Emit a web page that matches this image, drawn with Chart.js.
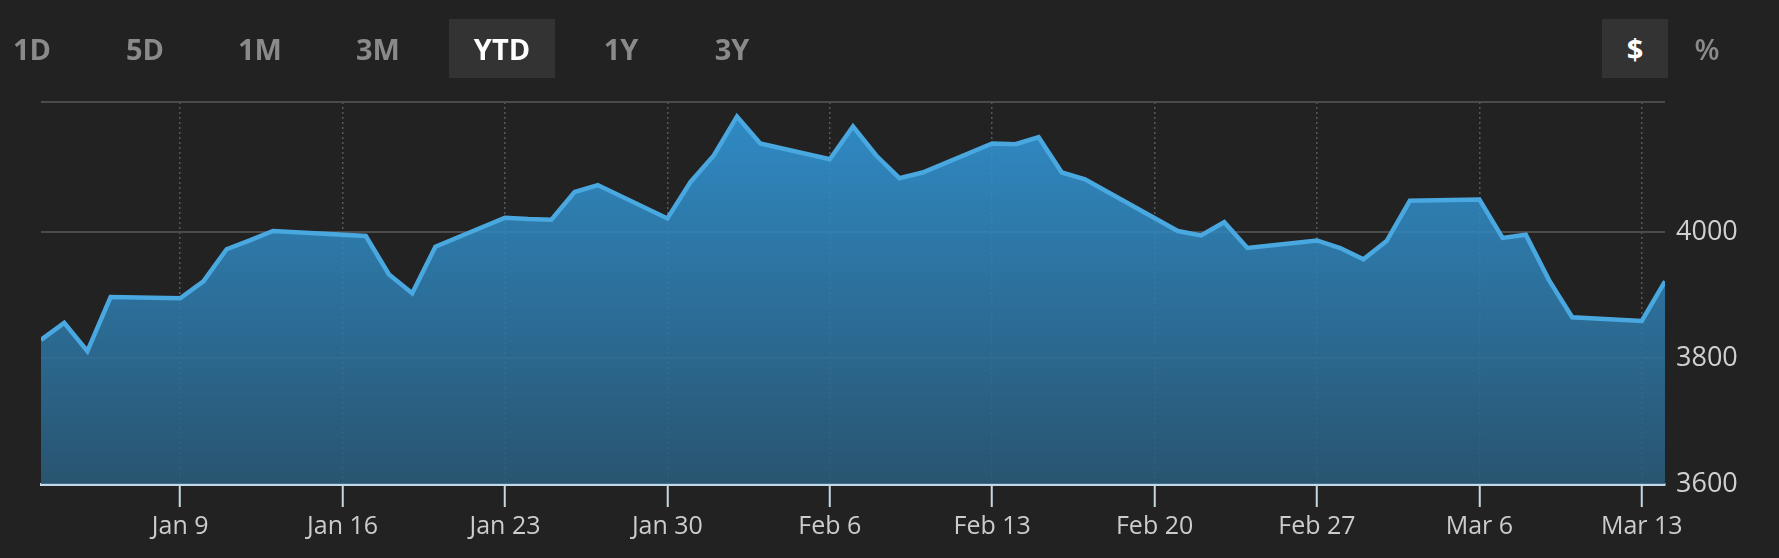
<!DOCTYPE html>
<html>
<head>
<meta charset="utf-8">
<script src="https://cdn.jsdelivr.net/npm/chart.js@4.4.1/dist/chart.umd.min.js"></script>
<style>
  html, body { margin: 0; padding: 0; background: #222222; overflow: hidden; }
  #wrap { position: relative; width: 1779px; height: 558px; }
  #chart { position: absolute; left: 0; top: 0; }
  .btn {
    position: absolute; top: 19px; height: 59px;
    display: flex; align-items: center; justify-content: center;
    font-family: 'Open Sans', sans-serif; font-weight: 700; font-size: 29px;
    color: #8a8a8a; white-space: nowrap;
  }
  .btn.active { background: #333333; color: #ffffff; }
</style>
</head>
<body>
<div id="wrap">
  <canvas id="chart" width="1779" height="558"></canvas>
  <div id="buttons"></div>
</div>
<script>
// range buttons across the top
const rangeLabels = ['1D', '5D', '1M', '3M', 'YTD', '1Y', '3Y'];
const rangeCenters = [32, 145, 260, 378, 502, 621, 732];
const unitLabels = ['$', '%'];
const unitCenters = [1635, 1707];

// daily closes, YTD
const dates = [
  '2023-01-03', '2023-01-04', '2023-01-05', '2023-01-06', '2023-01-09', '2023-01-10',
  '2023-01-11', '2023-01-12', '2023-01-13', '2023-01-17', '2023-01-18', '2023-01-19',
  '2023-01-20', '2023-01-23', '2023-01-24', '2023-01-25', '2023-01-26', '2023-01-27',
  '2023-01-30', '2023-01-31', '2023-02-01', '2023-02-02', '2023-02-03', '2023-02-06',
  '2023-02-07', '2023-02-08', '2023-02-09', '2023-02-10', '2023-02-13', '2023-02-14',
  '2023-02-15', '2023-02-16', '2023-02-17', '2023-02-21', '2023-02-22', '2023-02-23',
  '2023-02-24', '2023-02-27', '2023-02-28', '2023-03-01', '2023-03-02', '2023-03-03',
  '2023-03-06', '2023-03-07', '2023-03-08', '2023-03-09', '2023-03-10', '2023-03-13',
  '2023-03-14'
];
const closes = [
  3829, 3856, 3811, 3897, 3895, 3922,
  3973, 3987, 4002, 3994, 3933, 3903,
  3977, 4023, 4021, 4020, 4064, 4075,
  4022, 4080, 4122, 4184, 4141, 4116,
  4168, 4122, 4086, 4095, 4141, 4140,
  4151, 4095, 4084, 4002, 3995, 4016,
  3975, 3987, 3975, 3957, 3986, 4050,
  4052, 3991, 3996, 3924, 3865, 3859,
  3922
];

// x axis ticks (weekly)
const tickDates = ['2023-01-09', '2023-01-16', '2023-01-23', '2023-01-30', '2023-02-06',
  '2023-02-13', '2023-02-20', '2023-02-27', '2023-03-06', '2023-03-13'];
const tickLabels = ['Jan 9', 'Jan 16', 'Jan 23', 'Jan 30', 'Feb 6',
  'Feb 13', 'Feb 20', 'Feb 27', 'Mar 6', 'Mar 13'];

// y axis: labelled ticks, plus an unlabelled line at the top of the plot
const yTicks = [3600, 3800, 4000];
const yMin = 3600, yTop = 4207;

function dayNum(iso) {
  const [y, m, d] = iso.split('-').map(Number);
  return (Date.UTC(y, m - 1, d) - Date.UTC(y, 0, 0)) / 86400000;
}

// buttons
const btnBox = document.getElementById('buttons');
function addBtn(text, cx, active, w) {
  const el = document.createElement('div');
  el.className = 'btn' + (active ? ' active' : '');
  el.textContent = text;
  el.style.left = (cx - w / 2) + 'px';
  el.style.width = w + 'px';
  btnBox.appendChild(el);
  return el;
}
rangeLabels.forEach((t, i) => addBtn(t, rangeCenters[i], t === 'YTD', t === 'YTD' ? 106 : 60));
unitLabels.forEach((t, i) => {
  const el = addBtn(t, unitCenters[i], t === '$', t === '$' ? 66 : 40);
  if (t === '%') el.style.fontWeight = '600';
});

const points = dates.map((d, i) => ({ x: dayNum(d), y: closes[i] }));
const tickDays = tickDates.map(dayNum);

const axisLight = '#c4d8e6';

new Chart(document.getElementById('chart'), {
  type: 'line',
  data: {
    datasets: [{
      data: points,
      borderColor: '#49a8e0',
      borderWidth: 4.5,
      pointRadius: 0,
      tension: 0,
      fill: 'start',
      backgroundColor: (context) => {
        const { ctx, chartArea } = context.chart;
        if (!chartArea) return 'rgba(47,137,194,0.85)';
        const g = ctx.createLinearGradient(0, chartArea.top, 0, chartArea.bottom);
        g.addColorStop(0, 'rgba(50,156,224,0.87)');
        g.addColorStop(1, 'rgba(42,92,124,0.87)');
        return g;
      }
    }]
  },
  options: {
    responsive: false,
    animation: false,
    layout: { padding: { left: 41, top: 102, right: 0, bottom: 0 } },
    plugins: { legend: { display: false }, tooltip: { enabled: false } },
    scales: {
      x: {
        type: 'linear',
        min: dayNum(dates[0]),
        max: dayNum(dates[dates.length - 1]),
        afterBuildTicks: (scale) => { scale.ticks = tickDays.map(v => ({ value: v })); },
        afterFit: (scale) => { scale.height = 74; },
        grid: {
          color: '#575757',
          lineWidth: 1.5,
          drawTicks: true,
          tickLength: 23,
          tickColor: axisLight,
          tickWidth: 2
        },
        border: { display: true, color: axisLight, width: 3, dash: [2, 3] },
        ticks: {
          autoSkip: false,
          maxRotation: 0,
          padding: 5,
          color: '#cccccc',
          font: { family: "'Open Sans', sans-serif", size: 25 },
          callback: (v, i) => tickLabels[i]
        }
      },
      y: {
        position: 'right',
        min: yMin,
        max: yTop,
        afterBuildTicks: (scale) => {
          scale.ticks = yTicks.concat([yTop]).map(v => ({ value: v }));
        },
        afterFit: (scale) => { scale.width = 114; },
        grid: { color: '#4b4b4b', lineWidth: 2, drawTicks: false },
        border: { display: false },
        ticks: {
          padding: 11,
          color: '#d0d0d0',
          font: { family: "'Open Sans', sans-serif", size: 27 },
          callback: (v) => (yTicks.includes(v) ? String(v) : '')
        }
      }
    }
  }
});
</script>
</body>
</html>
